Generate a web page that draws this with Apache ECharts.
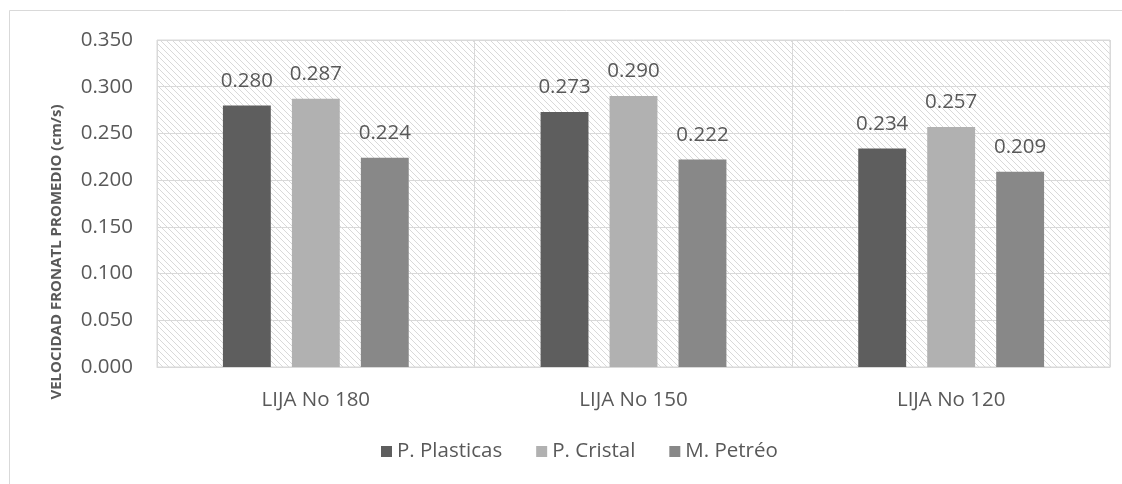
<!DOCTYPE html>
<html>
<head>
<meta charset="utf-8">
<script src="https://cdn.jsdelivr.net/npm/echarts@6/dist/echarts.min.js"></script>
<style>
  html, body { margin: 0; padding: 0; background: #ffffff; }
  #chart { width: 1122px; height: 484px; }
</style>
</head>
<body>
<div id="chart"></div>
<script>
// Sandpaper grades on the x axis
const categories = ['LIJA No 180', 'LIJA No 150', 'LIJA No 120'];
// Average front velocity (cm/s) for each material
const plasticas = [0.280, 0.273, 0.234];
const cristal = [0.287, 0.290, 0.257];
const petreo = [0.224, 0.222, 0.209];
const seriesNames = ['P. Plasticas', 'P. Cristal', 'M. Petréo'];
const yTicks = { min: 0, max: 0.35, interval: 0.05 };

const FONT = 'Open Sans';
const TEXT = '#595959';
const LINE = '#d9d9d9';
const SIZE = 20.5;

// Light downward-diagonal hatch used as the plot background
function hatchPattern() {
  const size = 6;
  const c = document.createElement('canvas');
  c.width = size; c.height = size;
  const ctx = c.getContext('2d');
  ctx.fillStyle = '#ffffff';
  ctx.fillRect(0, 0, size, size);
  ctx.fillStyle = '#d9d9d9';
  for (let i = 0; i < size; i++) {
    ctx.fillRect(i, i, 1, 1);
  }
  return { image: c, repeat: 'repeat' };
}

const chart = echarts.init(document.getElementById('chart'), null, { renderer: 'canvas' });

const labelStyle = {
  show: true,
  position: 'top',
  distance: 14,
  color: TEXT,
  fontFamily: FONT,
  fontSize: SIZE,
  formatter: p => p.value.toFixed(3)
};

function bar(name, data, color) {
  return {
    name: name,
    type: 'bar',
    data: data,
    barGap: '44%',
    barCategoryGap: '41.5%',
    itemStyle: { color: color },
    label: labelStyle,
    emphasis: { disabled: true }
  };
}

chart.setOption({
  animation: false,
  backgroundColor: '#ffffff',
  graphic: [
    {
      type: 'rect',
      shape: { x: 9.5, y: 10.5, width: 1300, height: 700 },
      style: { fill: 'none', stroke: LINE, lineWidth: 1 },
      z: -1
    },
    {
      type: 'text',
      x: 57,
      y: 252,
      rotation: Math.PI / 2,
      style: {
        text: 'VELOCIDAD FRONATL PROMEDIO (cm/s)',
        fill: TEXT,
        font: 'bold 15px "Open Sans"',
        align: 'center',
        verticalAlign: 'middle'
      }
    }
  ],
  grid: {
    left: 157,
    right: 12,
    top: 40,
    bottom: 117,
    show: true,
    backgroundColor: hatchPattern(),
    borderColor: LINE,
    borderWidth: 1
  },
  legend: {
    data: seriesNames,
    bottom: 17,
    left: 376,
    itemWidth: 11,
    itemHeight: 11,
    itemGap: 34,
    icon: 'rect',
    textStyle: { color: TEXT, fontFamily: FONT, fontSize: SIZE }
  },
  xAxis: {
    type: 'category',
    data: categories,
    axisLine: { show: true, lineStyle: { color: LINE, width: 1 } },
    axisTick: { show: false },
    splitLine: { show: true, lineStyle: { color: LINE, width: 1 } },
    axisLabel: { color: TEXT, fontFamily: FONT, fontSize: SIZE, margin: 23 }
  },
  yAxis: {
    type: 'value',
    min: yTicks.min,
    max: yTicks.max,
    interval: yTicks.interval,
    axisLine: { show: false },
    axisTick: { show: false },
    splitLine: { show: true, lineStyle: { color: LINE, width: 1 } },
    axisLabel: {
      color: TEXT,
      fontFamily: FONT,
      fontSize: SIZE,
      margin: 24,
      formatter: v => v.toFixed(3)
    }
  },
  series: [
    bar(seriesNames[0], plasticas, '#5e5e5e'),
    bar(seriesNames[1], cristal, '#b1b1b1'),
    bar(seriesNames[2], petreo, '#888888')
  ]
});
</script>
</body>
</html>
